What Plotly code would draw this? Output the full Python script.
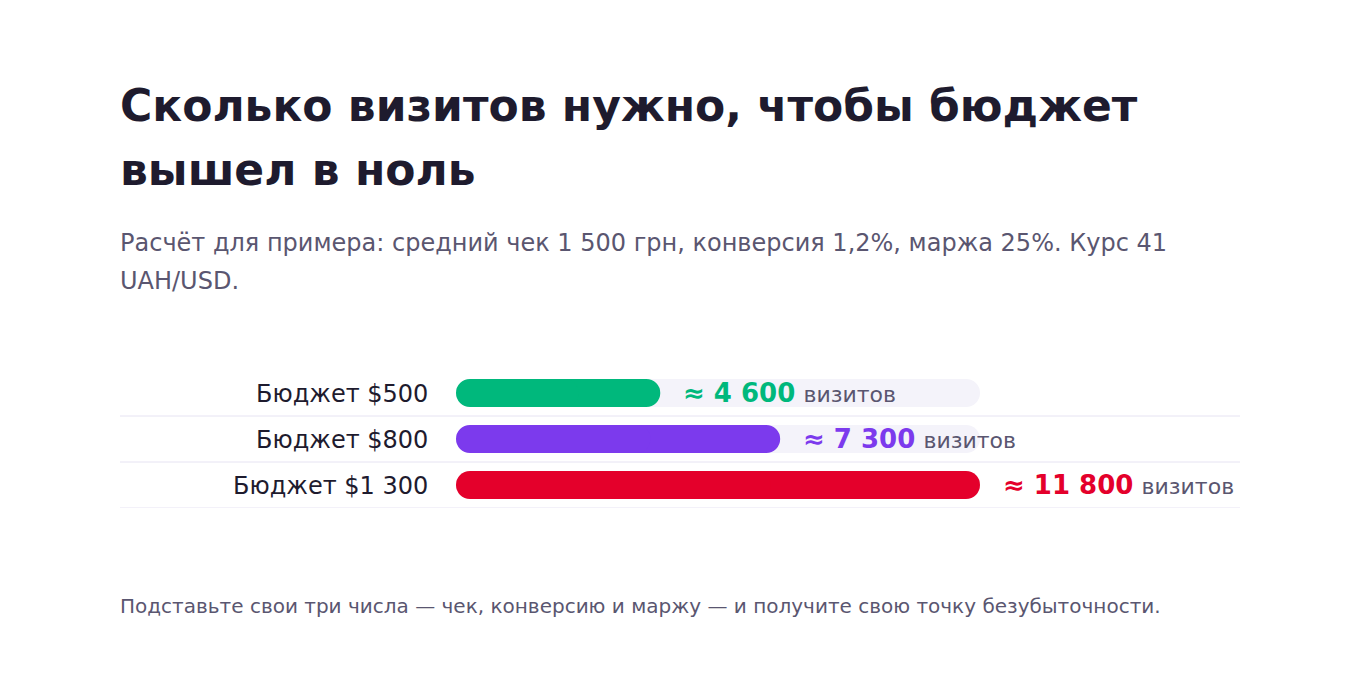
import plotly.graph_objects as go

budgets = ["Бюджет $500", "Бюджет $800", "Бюджет $1 300"]
visits = [4600, 7300, 11800]
colors = ["#00b87c", "#7c3aed", "#e4002b"]
track_max = 11800

TITLE = ["Сколько визитов нужно, чтобы бюджет", "вышел в ноль"]
SUB = ["Расчёт для примера: средний чек 1 500 грн, конверсия 1,2%, маржа 25%. Курс 41", "UAH/USD."]
FOOT = "Подставьте свои три числа — чек, конверсию и маржу — и получите свою точку безубыточности."

OFF = 8  # page body offset
W, H = 1360 - OFF, 680 - OFF
ML, MT = 120 - OFF, 370 - OFF
MR, MB = 120, 172
plot_w = W - ML - MR
bar_x0_px, bar_x1_px = 456 - OFF, 980 - OFF
scale = (bar_x1_px - bar_x0_px) / track_max
xmin = -(bar_x0_px - ML) / scale
xmax = xmin + plot_w / scale

def fmt(v):
    return f"{v:,}".replace(",", " ")

def py(p):
    return (H - MB - (p - OFF)) / (H - MT - MB)

fig = go.Figure()
BW = 28 / 46
R = 14

def add_rounded(ys, vals, color):
    fig.add_trace(go.Bar(y=ys, x=[v * 0.6 for v in vals], base=[v * 0.4 for v in vals],
                         orientation="h", opacity=1,
                         marker=dict(color=color, opacity=1, line=dict(width=0), cornerradius=R),
                         width=BW, hoverinfo="skip", showlegend=False))
    fig.add_trace(go.Bar(y=ys, x=[-v * 0.6 for v in vals], base=[v * 0.6 for v in vals],
                         orientation="h", opacity=1,
                         marker=dict(color=color, opacity=1, line=dict(width=0), cornerradius=R),
                         width=BW, hoverinfo="skip", showlegend=False))

add_rounded(budgets, [track_max] * len(budgets), "#f4f3fa")
for i in range(len(budgets)):
    add_rounded([budgets[i]], [visits[i]], colors[i])

ann = []
for i, b in enumerate(budgets):
    ann.append(dict(x=0, y=b, xref="x", yref="y", text=b, showarrow=False, xanchor="right",
                    xshift=-26, yshift=-1, font=dict(size=24, color="#1e1b2e")))
    ann.append(dict(x=visits[i], y=b, xref="x", yref="y",
                    text=f"<b>≈ {fmt(visits[i])}</b> <span style='font-size:22px;color:#5a5670'>визитов</span>",
                    showarrow=False, xanchor="left", xshift=21, font=dict(size=26, color=colors[i])))

for line, c in zip(TITLE, [105, 170]):
    ann.append(dict(x=0, y=py(c), xref="paper", yref="paper", text=f"<b>{line}</b>", showarrow=False,
                    xanchor="left", yanchor="middle", xshift=-2, font=dict(size=44, color="#1e1b2e")))
for line, c in zip(SUB, [243, 281]):
    ann.append(dict(x=0, y=py(c), xref="paper", yref="paper", text=line, showarrow=False,
                    xanchor="left", yanchor="middle", xshift=-2, font=dict(size=24, color="#5a5670")))
ann.append(dict(x=0, y=py(606), xref="paper", yref="paper", text=FOOT, showarrow=False,
                xanchor="left", yanchor="middle", xshift=-2, font=dict(size=20, color="#5a5670")))

shapes = []
for k in range(len(budgets)):
    shapes.append(dict(type="line", xref="paper", yref="y", x0=0, x1=1, y0=k + 0.5, y1=k + 0.5,
                       line=dict(color="#e6e3f2", width=1)))

fig.update_layout(
    width=W, height=H, barmode="overlay",
    margin=dict(l=ML, r=MR, t=MT, b=MB),
    paper_bgcolor="white", plot_bgcolor="white",
    font=dict(family="DejaVu Sans"),
    xaxis=dict(range=[xmin, xmax], visible=False, fixedrange=True),
    yaxis=dict(range=[len(budgets) - 0.5, -0.5], visible=False, type="category", fixedrange=True),
    annotations=ann, shapes=shapes, showlegend=False,
)
fig.write_html("out.html", config={"displayModeBar": False})
